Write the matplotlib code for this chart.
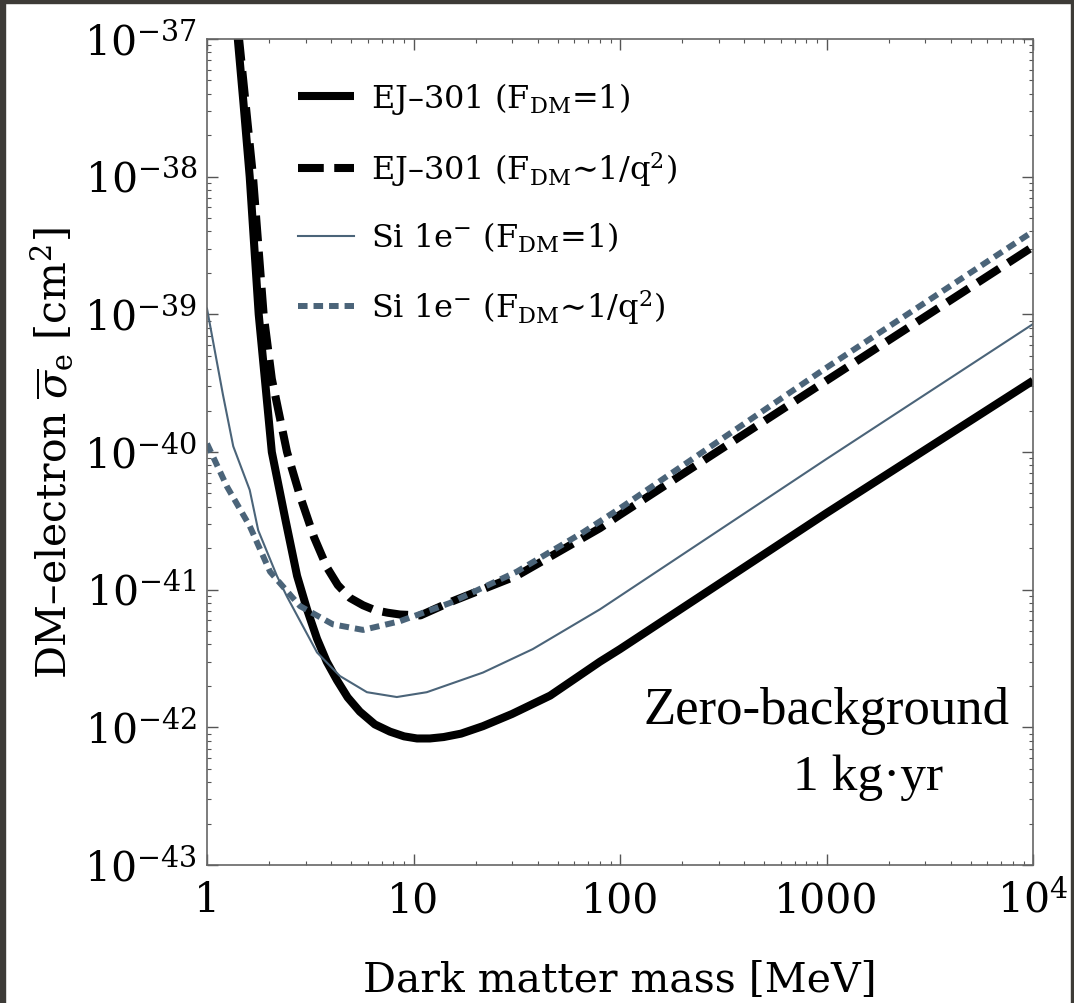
import numpy as np
import matplotlib
matplotlib.use("Agg")
import matplotlib.pyplot as plt
from matplotlib.patches import Rectangle

# curves (mass in MeV, cross section in cm^2)
ej_m = [1.35, 1.41, 1.5, 1.61, 1.78, 2.06, 2.4, 2.73, 3.05, 3.41, 3.8, 4.26, 4.8,
        5.5, 6.5, 7.7, 9.0, 10.4, 12.0, 14.0, 17.0, 21.7, 30.0, 45.9, 80.0, 100.0,
        1000.0, 10000.0]
ej_s = [3e-37, 1e-37, 3.5e-38, 1e-38, 1e-39, 1e-40, 3.2e-41, 1.26e-41, 7.2e-42, 4.4e-42,
        3.0e-42, 2.2e-42, 1.65e-42, 1.3e-42, 1.05e-42, 9.3e-43, 8.6e-43, 8.3e-43, 8.3e-43,
        8.5e-43, 9.0e-43, 1.02e-42, 1.25e-42, 1.7e-42, 3.0e-42, 3.7e-42, 3.6e-41, 3.3e-40]

ejq_m = [1.38, 1.43, 1.67, 1.88, 2.06, 2.44, 2.82, 3.3, 3.81, 4.3, 4.93, 5.7, 6.5, 7.5,
         8.6, 10.8, 15.0, 31.6, 80.0, 100.0, 1000.0, 10000.0]
ejq_s = [3e-37, 1e-37, 1e-38, 1e-39, 3.4e-40, 1e-40, 4.8e-41, 2.4e-41, 1.45e-41, 1.08e-41,
         8.7e-42, 7.7e-42, 7.1e-42, 6.8e-42, 6.6e-42, 6.5e-42, 8.1e-42, 1.26e-41, 2.8e-41,
         3.5e-41, 3.3e-40, 3.1e-39]

si_m = [1.0, 1.195, 1.34, 1.61, 1.77, 2.18, 2.44, 3.41, 4.4, 5.95, 8.3, 11.6, 21.7,
        37.8, 80.0, 1000.0, 10000.0]
si_s = [1.1e-39, 2.6e-40, 1.1e-40, 5.3e-41, 2.7e-41, 1.26e-41, 8.9e-42, 3.5e-42, 2.36e-42,
        1.8e-42, 1.66e-42, 1.8e-42, 2.5e-42, 3.7e-42, 7.2e-42, 8.9e-41, 8.5e-40]

siq_m = [1.0, 1.25, 1.61, 2.02, 2.82, 4.07, 5.7, 8.6, 15.0, 31.6, 66.0, 100.0, 1000.0, 10000.0]
siq_s = [1.15e-40, 5.6e-41, 2.9e-41, 1.35e-41, 7.6e-42, 5.6e-42, 5.1e-42, 5.9e-42, 8.0e-42,
         1.35e-41, 2.6e-41, 3.9e-41, 4.1e-40, 4.0e-39]

labels = [r"EJ–301 (F$_{\rm DM}$=1)",
          r"EJ–301 (F$_{\rm DM}$∼1/q$^2$)",
          r"Si 1e$^{-}$ (F$_{\rm DM}$=1)",
          r"Si 1e$^{-}$ (F$_{\rm DM}$∼1/q$^2$)"]

slate = "#4b6479"
plt.rcParams["font.family"] = "DejaVu Serif"
plt.rcParams["mathtext.fontset"] = "dejavuserif"

fig = plt.figure(figsize=(10.74, 10.04), dpi=100)
ax = fig.add_axes([207 / 1074, 1 - 866 / 1004, 826 / 1074, 826 / 1004])

ax.plot(ej_m, ej_s, color="black", lw=5.8, solid_capstyle="butt", label=labels[0])
ax.plot(ejq_m, ejq_s, color="black", lw=5.8, dashes=(3.2, 1.3), label=labels[1])
ax.plot(si_m, si_s, color=slate, lw=1.5, label=labels[2])
ax.plot(siq_m, siq_s, color=slate, lw=4.3, dashes=(1.6, 1.0), label=labels[3])

ax.set_xscale("log")
ax.set_yscale("log")
ax.set_xlim(1, 1e4)
ax.set_ylim(1e-43, 1e-37)
ax.set_xticks([1, 10, 100, 1000, 1e4])
ax.set_xticklabels(["1", "10", "100", "1000", r"$10^4$"])
ax.set_yticks([10.0 ** k for k in range(-43, -36)])
ax.set_yticklabels([r"$10^{%d}$" % k for k in range(-43, -36)])

for sp in ax.spines.values():
    sp.set_color("#666666")
    sp.set_linewidth(1.2)
ax.tick_params(which="both", direction="in", top=True, right=True, colors="#555555",
               labelcolor="black", labelsize=29.5)
ax.tick_params(which="major", length=8, width=1.0)
ax.tick_params(which="minor", length=3, width=0.8)
ax.tick_params(axis="x", which="major", pad=11)
ax.tick_params(axis="y", which="major", pad=7)

ax.set_xlabel("Dark matter mass [MeV]", fontsize=29.5, labelpad=28)
ax.set_ylabel(r"DM–electron $\overline{\sigma}_{\rm e}$ [cm$^2$]", fontsize=29.5, labelpad=6)

leg = ax.legend(loc="upper left", bbox_to_anchor=(0.075, 0.985), frameon=False, fontsize=23,
                handlelength=1.75, handletextpad=0.55, labelspacing=1.02)

ax.text(0.972, 0.188, "Zero-background", transform=ax.transAxes, ha="right", va="center",
        fontsize=38, family="Liberation Serif")
ax.text(0.80, 0.107, "1 kg·yr", transform=ax.transAxes, ha="center", va="center",
        fontsize=37, family="Liberation Serif")

# dark frame around the screenshot
border = "#3d3b37"
fig.patches.append(Rectangle((0, 1 - 4 / 1004), 1, 4 / 1004, transform=fig.transFigure,
                             color=border, zorder=10))
fig.patches.append(Rectangle((0, 0), 5 / 1074, 1, transform=fig.transFigure,
                             color=border, zorder=10))
fig.patches.append(Rectangle((1 - 3 / 1074, 0), 3 / 1074, 1, transform=fig.transFigure,
                             color=border, zorder=10))

fig.savefig("out.png", dpi=100)
